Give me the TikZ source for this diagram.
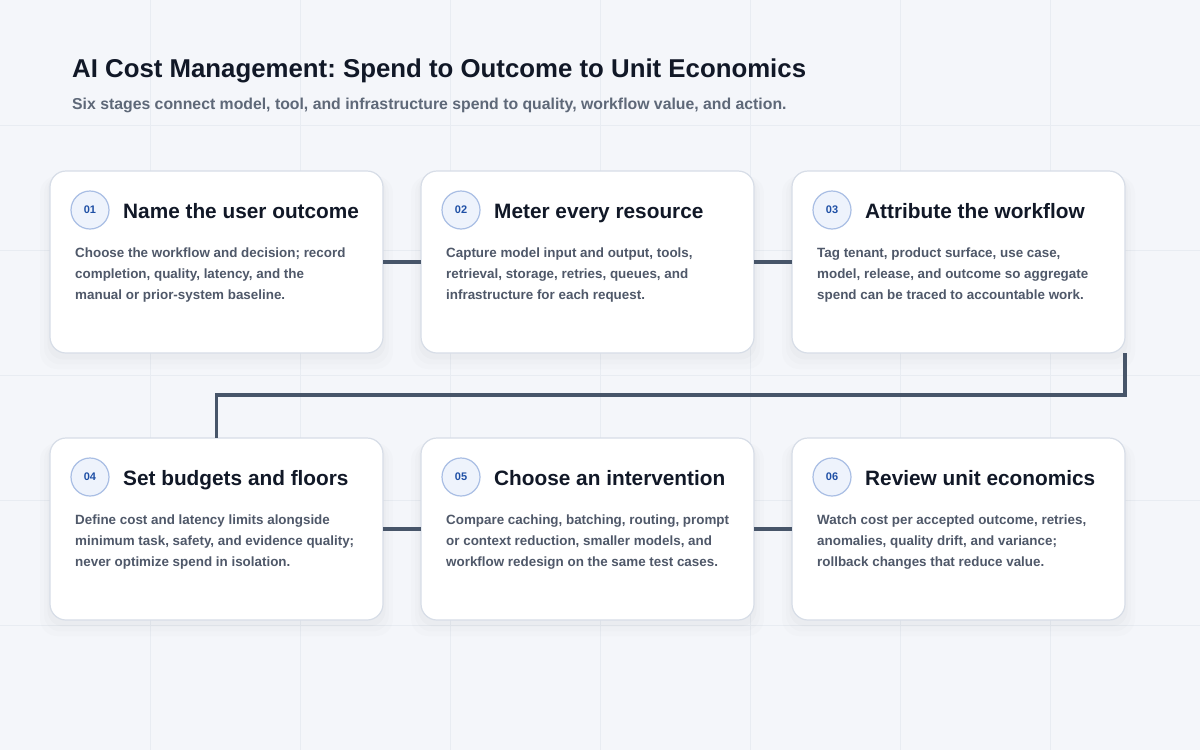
\documentclass[tikz,border=0pt]{standalone}
\usepackage{fontspec}
\setmainfont{Liberation Sans}
\frenchspacing
\usetikzlibrary{positioning,shadows}
\definecolor{pagebg}{HTML}{F4F6FA}
\definecolor{gridline}{HTML}{E8ECF2}
\definecolor{cardline}{HTML}{D7DDE7}
\definecolor{ink}{HTML}{111827}
\definecolor{bodyink}{HTML}{4F5869}
\definecolor{subink}{HTML}{5E6878}
\definecolor{wirecol}{HTML}{475569}
\definecolor{badgefill}{HTML}{EEF3FC}
\definecolor{badgeline}{HTML}{A9BEE4}
\definecolor{badgeink}{HTML}{1E4FA5}
\begin{document}
\begin{tikzpicture}[x=1pt, y=-1pt, node distance=85pt and 38pt,
  card/.style={draw=cardline, line width=1.2pt, fill=white, rounded corners=16pt,
    minimum width=333pt, minimum height=182pt, inner sep=0pt, outer sep=0pt,
    drop shadow={shadow xshift=0pt, shadow yshift=-10pt, opacity=.02, shadow scale=1.06},
    drop shadow={shadow xshift=0pt, shadow yshift=-8pt, opacity=.025, shadow scale=1.035},
    drop shadow={shadow xshift=0pt, shadow yshift=-5pt, opacity=.03, shadow scale=1.015}},
  badge/.style={circle, draw=badgeline, line width=1.2pt, fill=badgefill, minimum size=38pt,
    inner sep=0pt, font=\fontsize{11}{11}\selectfont\bfseries, text=badgeink},
  heading/.style={anchor=base west, inner sep=0pt, font=\fontsize{20.8}{24}\selectfont\bfseries, text=ink},
  blurb/.style={anchor=north west, inner sep=0pt, align=left,
    font=\fontsize{13.4}{21}\selectfont\bfseries, text=bodyink},
  wire/.style={draw=wirecol, line width=3.6pt}]
\useasboundingbox (0,0) rectangle (1200,750);
\fill[pagebg] (0,0) rectangle (1200,750);
\foreach \gx in {150,300,...,1050} \draw[gridline, line width=1pt] (\gx,0) -- (\gx,750);
\foreach \gy in {125,250,...,625} \draw[gridline, line width=1pt] (0,\gy) -- (1200,\gy);

% title
\node[anchor=base west, inner sep=0pt, font=\fontsize{25.8}{30}\selectfont\bfseries, text=ink] (title) at (72,77)
  {AI Cost Management: Spend to Outcome to Unit Economics};
\node[anchor=base west, inner sep=0pt, font=\fontsize{15.8}{18}\selectfont\bfseries, text=subink] (subtitle) at (72,109.5)
  {Six stages connect model, tool, and infrastructure spend to quality, workflow value, and action.};

% cards
\node[card] (c1) at (216.5,262) {};
\node[card, right=of c1] (c2) {};
\node[card, right=of c2] (c3) {};
\node[card, below=of c1] (c4) {};
\node[card, right=of c4] (c5) {};
\node[card, right=of c5] (c6) {};

% stage 1
\node[badge] (b1) at ([xshift=40pt, yshift=-39pt]c1.north west) {01};
\node[heading] (h1) at ([xshift=73pt, yshift=-47pt]c1.north west) {Name the user outcome};
\node[blurb] (t1) at ([xshift=25pt, yshift=-76.5pt]c1.north west)
  {Choose the workflow and decision; record\\completion, quality, latency, and the\\manual or prior-system baseline.};
% stage 2
\node[badge] (b2) at ([xshift=40pt, yshift=-39pt]c2.north west) {02};
\node[heading] (h2) at ([xshift=73pt, yshift=-47pt]c2.north west) {Meter every resource};
\node[blurb] (t2) at ([xshift=25pt, yshift=-76.5pt]c2.north west)
  {Capture model input and output, tools,\\retrieval, storage, retries, queues, and\\infrastructure for each request.};
% stage 3
\node[badge] (b3) at ([xshift=40pt, yshift=-39pt]c3.north west) {03};
\node[heading] (h3) at ([xshift=73pt, yshift=-47pt]c3.north west) {Attribute the workflow};
\node[blurb] (t3) at ([xshift=25pt, yshift=-76.5pt]c3.north west)
  {Tag tenant, product surface, use case,\\model, release, and outcome so aggregate\\spend can be traced to accountable work.};
% stage 4
\node[badge] (b4) at ([xshift=40pt, yshift=-39pt]c4.north west) {04};
\node[heading] (h4) at ([xshift=73pt, yshift=-47pt]c4.north west) {Set budgets and floors};
\node[blurb] (t4) at ([xshift=25pt, yshift=-76.5pt]c4.north west)
  {Define cost and latency limits alongside\\minimum task, safety, and evidence quality;\\never optimize spend in isolation.};
% stage 5
\node[badge] (b5) at ([xshift=40pt, yshift=-39pt]c5.north west) {05};
\node[heading] (h5) at ([xshift=73pt, yshift=-47pt]c5.north west) {Choose an intervention};
\node[blurb] (t5) at ([xshift=25pt, yshift=-76.5pt]c5.north west)
  {Compare caching, batching, routing, prompt\\or context reduction, smaller models, and\\workflow redesign on the same test cases.};
% stage 6
\node[badge] (b6) at ([xshift=40pt, yshift=-39pt]c6.north west) {06};
\node[heading] (h6) at ([xshift=73pt, yshift=-47pt]c6.north west) {Review unit economics};
\node[blurb] (t6) at ([xshift=25pt, yshift=-76.5pt]c6.north west)
  {Watch cost per accepted outcome, retries,\\anomalies, quality drift, and variance;\\rollback changes that reduce value.};

% connectors
\draw[wire] (c1) -- (c2);
\draw[wire] (c2) -- (c3);
\draw[wire] (c3.south east) -- ++(0,42) -| (c4.north);
\draw[wire] (c4) -- (c5);
\draw[wire] (c5) -- (c6);
\end{tikzpicture}
\end{document}
